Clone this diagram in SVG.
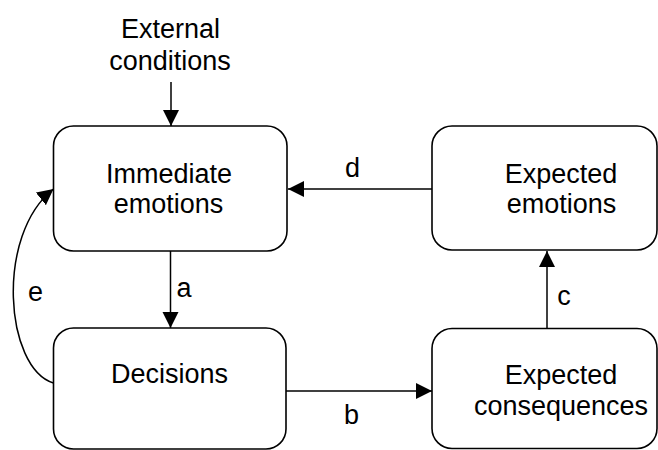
<svg xmlns="http://www.w3.org/2000/svg" width="658" height="450" viewBox="0 0 658 450">
<defs>
<style>
.box{fill:#fff;stroke:#000;stroke-width:1.6}
.lbl{font-family:"Liberation Sans",Arial,sans-serif;font-size:27px;fill:#000;text-anchor:middle}
.con{fill:none;stroke:#000;stroke-width:1.5}
</style>
<marker id="ah" markerUnits="userSpaceOnUse" markerWidth="17" markerHeight="17" refX="16" refY="8" orient="auto">
<path d="M0,0 L16,8 L0,16 z" fill="#000"/>
</marker>
</defs>
<rect width="658" height="450" fill="#fff"/>
<g id="external">
<text class="lbl" x="170.5" y="38">External</text>
<text class="lbl" x="170" y="70">conditions</text>
</g>
<g id="immediate">
<rect class="box" x="53.5" y="126" width="233.5" height="125" rx="20" ry="20"/>
<text class="lbl" x="169" y="183">Immediate</text>
<text class="lbl" x="168.5" y="213">emotions</text>
</g>
<g id="decisions">
<rect class="box" x="53.5" y="328" width="232.5" height="121" rx="20" ry="20"/>
<text class="lbl" x="169.5" y="383">Decisions</text>
</g>
<g id="expected-emotions">
<rect class="box" x="432" y="126" width="225" height="124" rx="20" ry="20"/>
<text class="lbl" x="561" y="183">Expected</text>
<text class="lbl" x="561.5" y="213">emotions</text>
</g>
<g id="expected-consequences">
<rect class="box" x="432" y="328.5" width="225" height="120" rx="20" ry="20"/>
<text class="lbl" x="561" y="384">Expected</text>
<text class="lbl" x="561" y="415">consequences</text>
</g>
<g id="connectors">
<path class="con" d="M171,82 L171,126" marker-end="url(#ah)"/>
<path class="con" d="M170.5,251 L170.5,328" marker-end="url(#ah)"/>
<path class="con" d="M286,391 L432,391" marker-end="url(#ah)"/>
<path class="con" d="M547,328.5 L547,251" marker-end="url(#ah)"/>
<path class="con" d="M432,189 L288,189" marker-end="url(#ah)"/>
<path class="con" d="M53.5,383 C5,368 -5,235 53.5,189" marker-end="url(#ah)"/>
<text class="lbl" x="184" y="297">a</text>
<text class="lbl" x="351.5" y="424">b</text>
<text class="lbl" x="564" y="305">c</text>
<text class="lbl" x="352.5" y="177">d</text>
<text class="lbl" x="35.5" y="301">e</text>
</g>
</svg>
